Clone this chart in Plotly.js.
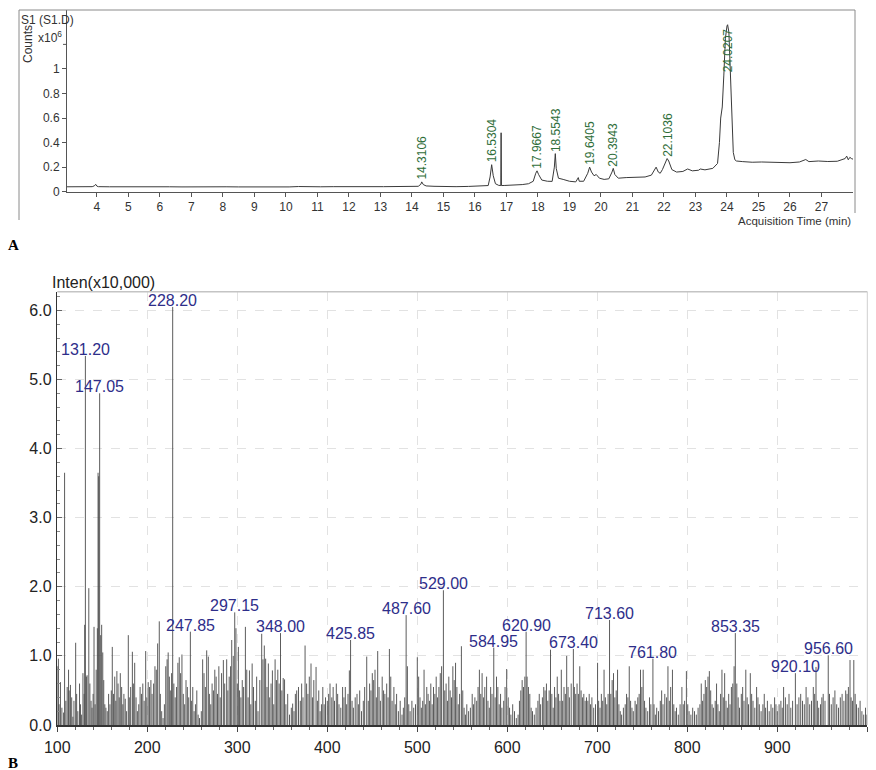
<!DOCTYPE html>
<html><head><meta charset="utf-8">
<script src="https://cdn.plot.ly/plotly-3.0.1.min.js"></script>
<style>html,body{margin:0;padding:0;background:#fff}#chart{width:876px;height:770px}</style>
</head><body><div id="chart"></div>
<script>
// ---------- Panel A: chromatogram ----------
const rtMin = [3.05,3.3,3.6,3.85,3.92,3.96,4.0,4.05,4.4,4.8,5.2,5.6,5.9,6.3,6.7,7.1,7.45,7.7,8.1,8.5,8.9,9.3,9.7,10.1,10.4,10.7,11.1,11.5,11.9,12.3,12.7,13.1,13.5,13.9,14.2,14.28,14.31,14.36,14.45,14.7,15.0,15.4,15.8,16.2,16.42,16.48,16.53,16.58,16.65,16.75,16.82,16.83,16.84,16.95,17.2,17.5,17.7,17.85,17.93,17.97,18.02,18.12,18.3,18.45,18.52,18.55,18.58,18.65,18.8,19.0,19.2,19.26,19.28,19.31,19.45,19.58,19.64,19.7,19.78,19.85,19.95,20.1,20.25,20.35,20.39,20.44,20.55,20.8,21.1,21.4,21.6,21.72,21.75,21.82,21.88,21.95,22.05,22.1,22.15,22.25,22.4,22.6,22.75,22.9,23.1,23.15,23.3,23.55,23.7,23.76,23.8,23.85,23.9,23.95,24.0,24.02,24.06,24.1,24.15,24.2,24.25,24.3,24.5,24.8,25.1,25.4,25.7,26.0,26.3,26.5,26.6,26.9,27.2,27.5,27.75,27.8,27.85,27.9,27.95,28.0];
const countsE6 = [0.040,0.041,0.040,0.041,0.048,0.060,0.045,0.041,0.040,0.041,0.040,0.039,0.041,0.040,0.039,0.040,0.043,0.042,0.040,0.039,0.038,0.038,0.039,0.039,0.042,0.040,0.040,0.041,0.039,0.040,0.041,0.041,0.042,0.042,0.044,0.060,0.080,0.058,0.047,0.044,0.042,0.041,0.043,0.045,0.050,0.120,0.220,0.130,0.065,0.052,0.050,0.480,0.050,0.051,0.053,0.058,0.065,0.085,0.150,0.170,0.140,0.095,0.085,0.084,0.200,0.310,0.190,0.110,0.100,0.085,0.080,0.110,0.115,0.085,0.085,0.150,0.200,0.160,0.130,0.140,0.110,0.100,0.105,0.160,0.190,0.140,0.110,0.115,0.118,0.120,0.135,0.190,0.200,0.160,0.150,0.180,0.240,0.270,0.250,0.180,0.160,0.165,0.185,0.170,0.175,0.185,0.178,0.190,0.230,0.400,0.600,0.690,0.950,1.250,1.350,1.360,1.300,1.050,0.600,0.320,0.260,0.250,0.245,0.240,0.242,0.238,0.240,0.236,0.242,0.262,0.245,0.250,0.246,0.248,0.270,0.290,0.260,0.280,0.270,0.265];
const peakRT = [14.3106,16.5304,17.9667,18.5543,19.6405,20.3943,22.1036,24.0207];
const rtTicks = [4,5,6,7,8,9,10,11,12,13,14,15,16,17,18,19,20,21,22,23,24,25,26,27];
const countTicks = [0,0.2,0.4,0.6,0.8,1];
const countTickText = ['0','0.2','0.4','0.6','0.8','1'];
const countExtraTick = 1.2;

// ---------- Panel B: mass spectrum ----------
const mz = [
 // 100-150
 100.5,101.2,102.0,103.5,105.1,107.0,108.1,109.5,111.0,112.5,113.2,114.6,116.0,117.3,118.5,120.4,121.5,122.8,124.7,125.8,127.0,128.5,129.8,130.4,131.2,132.3,133.1,135.0,136.2,137.5,138.6,139.8,140.8,142.0,143.2,144.5,145.3,146.0,147.05,148.2,149.3,
 // 150-200
 150.5,151.6,152.8,154.0,155.5,157.0,158.5,160.0,161.1,162.5,163.8,165.0,166.2,167.5,168.8,170.0,171.5,172.8,174.0,175.5,177.0,178.9,180.0,181.5,183.4,184.5,186.0,187.5,189.0,190.5,192.0,193.5,195.0,196.5,198.2,199.5,
 // 200-250
 201.0,202.5,204.0,205.3,207.0,208.5,210.0,211.5,213.3,214.5,216.0,217.5,219.0,220.5,222.0,223.2,224.5,226.0,227.0,228.2,229.5,231.0,232.5,234.0,235.5,237.0,238.5,240.0,241.5,243.0,244.5,246.0,247.85,249.0,
 // 250-300
 250.5,252.0,253.5,255.0,256.5,258.0,260.0,261.5,263.0,264.5,266.0,267.8,269.0,270.5,272.0,273.5,275.0,276.5,278.0,279.5,281.0,282.5,284.5,286.0,288.2,289.5,291.0,292.5,293.8,295.5,297.15,298.5,
 // 300-350
 300.0,301.2,302.5,304.0,305.5,307.0,309.0,310.5,312.0,313.5,315.0,316.5,318.0,320.0,321.5,323.0,325.0,327.1,328.5,330.0,331.5,333.0,334.5,336.0,337.5,339.0,340.5,342.0,343.5,345.0,346.5,348.0,349.5,
 // 350-400
 351.0,352.5,354.0,356.0,358.0,360.0,361.5,363.0,364.5,366.0,368.0,370.0,371.5,373.0,375.3,377.0,378.5,380.0,381.9,383.5,385.0,387.5,389.0,390.5,392.0,393.5,395.0,396.5,398.0,
 // 400-450
 400.0,401.5,403.0,405.0,406.5,408.0,410.0,411.5,413.0,415.0,417.0,418.5,420.0,421.5,423.0,424.5,425.85,427.5,429.0,431.0,433.0,434.5,436.0,438.0,440.0,441.5,443.8,445.5,447.0,448.5,
 // 450-500
 450.0,451.5,453.0,454.5,456.0,457.5,459.0,461.0,462.5,464.0,466.0,467.5,469.0,470.5,472.0,474.0,475.5,477.0,479.0,481.0,483.0,484.5,486.0,487.6,489.0,490.5,492.0,494.0,496.0,498.0,
 // 500-550
 500.0,501.5,503.0,504.5,506.0,507.5,509.0,510.5,512.0,513.5,515.0,516.5,518.0,519.5,521.0,522.5,524.0,525.5,527.0,529.0,530.5,532.0,533.5,535.0,536.5,538.0,539.5,541.0,542.5,544.0,545.5,547.0,549.0,
 // 550-600
 550.5,552.0,553.5,555.0,557.0,559.0,561.0,562.5,564.0,566.0,567.5,569.0,570.5,572.0,573.5,575.0,577.0,578.5,580.0,581.5,583.0,584.95,586.5,588.0,589.5,591.0,592.5,594.0,596.0,597.5,599.3,
 // 600-650
 601.0,602.5,604.0,606.0,608.0,610.0,612.0,613.5,615.0,616.5,618.0,619.5,620.9,622.0,623.5,625.0,626.5,628.0,630.0,632.0,634.0,635.5,637.0,639.0,640.5,642.0,643.5,645.0,646.5,648.0,649.5,
 // 650-700
 651.0,652.5,654.0,655.5,657.0,658.5,660.0,661.5,663.0,664.5,666.0,667.5,669.0,671.0,673.4,674.5,676.0,677.5,679.0,680.5,682.0,683.5,685.0,686.5,688.0,689.5,691.0,692.5,694.0,696.0,698.0,
 // 700-750
 700.3,701.5,703.0,704.5,706.0,707.5,709.0,710.5,712.0,713.6,715.0,716.5,718.0,719.5,721.0,722.5,724.0,725.5,727.0,729.0,731.0,732.5,734.0,735.5,737.0,738.5,740.0,742.0,743.5,745.0,746.5,748.0,749.5,
 // 750-800
 751.0,752.5,754.0,756.0,758.0,759.5,761.8,763.0,764.5,766.0,768.0,770.0,771.5,773.0,775.0,777.0,778.5,780.0,781.5,783.5,785.0,786.5,788.0,790.0,792.0,794.0,795.5,797.0,799.0,
 // 800-850
 800.5,802.0,804.0,806.0,808.0,810.0,812.0,814.0,815.5,817.0,818.5,820.0,821.5,823.0,824.5,826.0,827.5,829.0,831.0,832.5,834.0,835.5,837.0,838.5,840.0,841.5,843.0,844.5,846.0,847.5,849.0,
 // 850-900
 850.5,852.0,853.35,855.0,856.5,858.0,860.0,861.5,863.0,865.0,866.5,868.0,870.0,871.5,873.0,875.0,877.0,878.5,880.0,882.0,884.0,885.5,887.0,889.0,891.0,893.0,895.0,897.0,898.5,
 // 900-1000
 900.0,902.0,904.0,905.5,907.0,909.0,911.0,913.0,915.0,917.0,920.1,922.0,924.0,926.0,928.0,930.0,932.0,934.0,936.0,938.0,940.0,941.5,943.0,944.5,946.0,948.0,949.5,951.0,953.0,956.6,958.0,960.0,962.0,964.0,966.0,968.0,970.0,972.0,974.0,976.0,977.5,979.0,980.8,982.0,983.5,985.0,986.5,988.0,990.0,992.0,994.0,996.0,998.0,999.5
];
const intensity = [
 // 100-150
 0.85,0.96,0.30,0.62,0.25,0.18,3.65,0.35,0.55,0.80,0.50,0.58,0.40,0.12,0.35,1.19,0.45,0.20,0.60,0.30,0.15,0.75,0.45,1.45,5.34,0.70,0.72,1.98,0.60,0.35,0.25,0.45,1.42,0.30,0.80,1.40,3.65,3.60,4.80,1.30,1.45,
 // 150-200
 1.05,0.65,0.30,0.25,0.20,0.45,0.30,0.50,1.13,0.45,0.70,0.35,0.78,0.60,0.40,0.75,0.55,0.30,0.45,0.38,0.20,1.30,0.40,0.55,1.06,0.60,0.90,0.40,0.20,0.30,0.55,0.45,0.60,0.35,1.07,0.40,
 // 200-250
 0.62,0.55,0.65,0.45,0.60,0.85,0.80,1.18,1.50,0.45,0.20,0.10,0.30,0.85,0.95,1.05,0.70,0.50,0.75,6.05,0.60,0.40,0.55,0.90,0.98,0.75,1.02,0.45,0.30,0.65,0.55,0.40,1.35,0.35,
 // 250-300
 0.55,0.20,0.30,0.50,0.15,0.10,0.20,0.95,0.75,0.55,1.08,0.99,0.45,0.30,0.60,0.50,0.80,0.70,0.45,0.85,0.40,0.75,0.94,0.60,0.95,0.50,0.70,0.85,1.23,1.00,1.63,1.40,
 // 300-350
 0.60,1.13,0.50,0.40,0.65,0.55,1.42,0.80,0.40,0.79,0.30,0.89,0.55,0.35,0.70,0.20,0.65,1.32,0.95,1.15,0.96,0.55,0.89,0.40,0.60,0.79,0.30,0.95,0.65,0.80,0.60,1.33,0.50,
 // 350-400
 0.68,0.66,0.30,0.45,0.15,0.25,0.31,0.20,0.45,0.50,0.55,0.35,0.60,0.40,1.15,0.60,0.45,0.70,0.89,0.40,0.65,0.84,0.35,0.50,0.20,0.30,0.55,0.30,0.40,
 // 400-450
 0.35,0.45,0.60,0.40,0.55,0.35,0.60,0.45,0.30,0.25,0.55,0.40,0.55,0.30,0.45,0.79,1.23,0.35,0.25,0.40,0.45,0.30,0.50,0.20,0.35,0.55,0.99,0.35,0.60,0.50,
 // 450-500
 0.75,0.65,0.80,0.40,1.07,0.55,0.35,0.70,0.50,0.45,0.60,0.40,1.10,0.70,0.35,0.55,0.30,0.45,0.20,0.35,0.15,0.25,0.40,1.59,0.85,0.30,0.20,0.35,0.25,0.30,
 // 500-550
 0.98,0.70,0.40,0.25,0.35,0.80,0.30,0.55,0.45,0.35,0.60,0.30,0.55,0.45,0.70,0.40,0.55,0.75,0.85,1.95,0.50,0.60,0.35,0.70,0.50,0.40,0.85,0.65,0.90,0.55,0.30,0.45,1.14,
 // 550-600
 0.50,0.25,0.15,0.30,0.20,0.25,0.45,0.30,0.40,0.35,0.55,0.80,0.45,0.75,0.40,0.55,0.70,0.35,0.25,0.55,0.45,1.12,0.40,0.70,0.55,0.30,0.45,0.25,0.35,0.55,0.81,
 // 600-650
 0.40,0.25,0.15,0.30,0.20,0.10,0.15,0.35,0.50,0.65,0.55,0.70,1.35,0.70,0.55,0.45,0.25,0.20,0.15,0.25,0.35,0.45,0.30,0.40,0.55,0.50,0.60,0.35,0.50,1.09,0.45,
 // 650-700
 0.25,0.55,0.40,0.70,0.45,0.35,0.80,0.35,0.55,0.45,1.00,0.55,0.40,0.60,1.10,0.55,0.45,0.60,0.45,0.85,0.50,0.40,0.45,0.35,0.40,0.35,0.45,0.30,0.40,0.25,0.30,
 // 700-750
 0.90,0.35,0.25,0.45,0.35,0.80,0.40,0.30,0.45,1.52,0.45,0.65,0.75,0.40,0.50,0.80,0.30,0.20,0.15,0.25,0.30,0.45,0.40,0.85,0.35,0.25,0.20,0.35,0.30,0.40,0.45,0.80,0.55,
 // 750-800
 0.80,0.35,0.25,0.20,0.40,0.30,0.96,0.30,0.15,0.25,0.20,0.35,0.50,0.30,0.45,0.40,0.85,0.35,0.55,0.80,0.30,0.20,0.25,0.15,0.30,0.55,0.30,0.35,0.78,
 // 800-850
 0.30,0.20,0.15,0.25,0.20,0.15,0.25,0.30,0.60,0.35,0.45,0.65,0.55,0.70,0.78,0.50,0.30,0.25,0.35,0.60,0.30,0.20,0.45,0.80,0.40,0.75,0.35,0.25,0.45,0.30,0.55,
 // 850-900
 0.60,0.85,1.33,0.60,0.40,0.25,0.45,0.55,0.35,0.80,0.40,0.30,0.75,0.45,0.35,0.25,0.55,0.40,0.30,0.20,0.30,0.45,0.25,0.35,0.20,0.30,0.25,0.40,0.30,
 // 900-1000
 0.20,0.30,0.35,0.25,0.55,0.40,0.30,0.45,0.25,0.35,0.75,0.30,0.40,0.45,0.35,0.30,0.55,0.40,0.30,0.35,0.55,0.45,0.84,0.35,0.25,0.30,0.40,0.45,0.35,1.01,0.45,0.30,0.40,0.50,0.30,0.25,0.40,0.45,0.35,0.50,0.45,0.55,0.94,0.40,0.35,0.94,0.45,0.30,0.25,0.35,0.20,0.15,0.25,0.15
];
const specLabelMz = [131.20,147.05,228.20,247.85,297.15,348.00,425.85,487.60,529.00,584.95,620.90,673.40,713.60,761.80,853.35,920.10,956.60];
const mzTicks = [100,200,300,400,500,600,700,800,900,1000];
const mzTickText = ['100','200','300','400','500','600','700','800','900','m/z'];

// ---------- build ----------
const W = 876, H = 770;
const px = v => v / W, py = v => 1 - v / H;

const n = Math.min(mz.length, intensity.length);
const stickX = [], stickY = [];
for (let i = 0; i < n; i++) { stickX.push(mz[i], mz[i], null); stickY.push(0, intensity[i], null); }

function nearestVal(xs, ys, x0) {
  let best = 0, bd = Infinity;
  for (let i = 0; i < Math.min(xs.length, ys.length); i++) { const d = Math.abs(xs[i] - x0); if (d < bd) { bd = d; best = i; } }
  return ys[best];
}
function maxNear(xs, ys, x0, tol) {
  let m = 0;
  for (let i = 0; i < xs.length; i++) if (Math.abs(xs[i] - x0) <= tol && ys[i] > m) m = ys[i];
  return m;
}

const traces = [
  {x: rtMin, y: countsE6, type: 'scatter', mode: 'lines', xaxis: 'x', yaxis: 'y',
   line: {color: '#3a3a3a', width: 1}, hoverinfo: 'skip'},
  {x: stickX, y: stickY, type: 'scatter', mode: 'lines', xaxis: 'x2', yaxis: 'y2',
   connectgaps: false, line: {color: '#4a4a4a', width: 0.9}, hoverinfo: 'skip'}
];

const annotations = [];
peakRT.forEach(t => {
  const h = maxNear(rtMin, countsE6, t, 0.06);
  const big = h > 1.2;
  annotations.push({xref: 'x', yref: 'y', x: t, y: h, text: t.toFixed(4), showarrow: false,
    textangle: -90, xanchor: 'center', yanchor: big ? 'top' : 'bottom', yshift: big ? -2 : 0,
    font: {family: 'Liberation Sans, Arial, sans-serif', size: 12, color: '#2f6e3a'}});
});
specLabelMz.forEach(m => {
  const h = nearestVal(mz, intensity, m);
  annotations.push({xref: 'x2', yref: 'y2', x: m, y: h, text: m.toFixed(2), showarrow: false,
    xanchor: 'center', yanchor: 'bottom', yshift: -4,
    font: {family: 'Liberation Sans, Arial, sans-serif', size: 16, color: '#2e2e8a'}});
});
const fA = {family: 'Liberation Sans, Arial, sans-serif', size: 12, color: '#333'};
annotations.push(
  {xref: 'paper', yref: 'paper', x: px(19), y: py(20), text: 'S1 (S1.D)', showarrow: false, xanchor: 'left', yanchor: 'middle', font: fA},
  {xref: 'paper', yref: 'paper', x: px(28), y: py(44), text: 'Counts', showarrow: false, textangle: -90, xanchor: 'center', yanchor: 'middle', font: fA},
  {xref: 'paper', yref: 'paper', x: px(36), y: py(37), text: 'x10<sup>6</sup>', showarrow: false, xanchor: 'left', yanchor: 'middle', font: fA},
  {xref: 'paper', yref: 'paper', x: px(853), y: py(221), text: 'Acquisition Time (min)', showarrow: false, xanchor: 'right', yanchor: 'middle',
   font: {family: 'Liberation Sans, Arial, sans-serif', size: 11.5, color: '#333'}},
  {xref: 'paper', yref: 'paper', x: px(6), y: py(245), text: '<b>A</b>', showarrow: false, xanchor: 'left', yanchor: 'middle',
   font: {family: 'Liberation Serif, Times New Roman, serif', size: 15, color: '#000'}},
  {xref: 'paper', yref: 'paper', x: px(6), y: py(763), text: '<b>B</b>', showarrow: false, xanchor: 'left', yanchor: 'middle',
   font: {family: 'Liberation Serif, Times New Roman, serif', size: 15, color: '#000'}},
  {xref: 'paper', yref: 'paper', x: px(50), y: py(282), text: 'Inten(x10,000)', showarrow: false, xanchor: 'left', yanchor: 'middle',
   font: {family: 'Liberation Sans, Arial, sans-serif', size: 16, color: '#222'}}
);

const shapes = [
  {type: 'line', xref: 'paper', yref: 'paper', x0: px(19), x1: px(19), y0: py(10), y1: py(220), line: {color: '#8a8a8a', width: 1}},
  {type: 'line', xref: 'paper', yref: 'paper', x0: px(19), x1: px(855), y0: py(10), y1: py(10), line: {color: '#8a8a8a', width: 1}},
  {type: 'line', xref: 'paper', yref: 'paper', x0: px(855), x1: px(855), y0: py(10), y1: py(213), line: {color: '#8a8a8a', width: 1}},
  {type: 'line', xref: 'paper', yref: 'y', x0: px(63), x1: px(67), y0: countExtraTick, y1: countExtraTick, line: {color: '#555', width: 1}},
  {type: 'line', xref: 'paper', yref: 'paper', x0: px(57.3), x1: px(867.3), y0: py(291.7), y1: py(291.7), line: {color: '#c4c4c4', width: 1.5}},
  {type: 'line', xref: 'paper', yref: 'paper', x0: px(867.3), x1: px(867.3), y0: py(291.7), y1: py(725), line: {color: '#cfcfcf', width: 1}}
];

const fB = {family: 'Liberation Sans, Arial, sans-serif', size: 16, color: '#222'};
const layout = {
  width: W, height: H, margin: {l: 0, r: 0, t: 0, b: 0},
  paper_bgcolor: '#fff', plot_bgcolor: '#fff', showlegend: false,
  xaxis: {domain: [px(67), px(853)], range: [3.05, 28], anchor: 'y', tickmode: 'array', tickvals: rtTicks,
    ticks: 'outside', ticklen: 4, tickcolor: '#555', showline: true, linecolor: '#555', linewidth: 1,
    showgrid: false, zeroline: false, tickfont: fA, ticklabelstandoff: 0},
  yaxis: {domain: [py(191.7), py(10)], range: [0, 1.48], anchor: 'x', tickmode: 'array', tickvals: countTicks, ticktext: countTickText,
    ticks: 'outside', ticklen: 4, tickcolor: '#555', showline: true, linecolor: '#555', linewidth: 1,
    showgrid: false, zeroline: false, tickfont: fA},
  xaxis2: {domain: [px(57.3), px(867.3)], range: [100, 1000], anchor: 'y2', tickmode: 'array', tickvals: mzTicks, ticktext: mzTickText,
    ticks: 'outside', ticklen: 5, tickcolor: '#444', showline: true, linecolor: '#333', linewidth: 1.5,
    showgrid: true, gridcolor: '#e2e2e2', griddash: 'dash', gridwidth: 1, zeroline: false, tickfont: fB, ticklabelstandoff: 2,
    minor: {tick0: 100, dtick: 20, ticks: 'outside', ticklen: 3, tickcolor: '#666', showgrid: false}},
  yaxis2: {domain: [py(725), py(291.7)], range: [0, 6.27], anchor: 'x2', dtick: 1, tick0: 0, tickformat: '.1f',
    ticks: 'inside', ticklen: 5, tickcolor: '#666', showline: true, linecolor: '#333', linewidth: 1.5,
    showgrid: true, gridcolor: '#e2e2e2', griddash: 'dash', gridwidth: 1, zeroline: false, tickfont: fB, ticklabelstandoff: 1,
    minor: {tick0: 0, dtick: 0.2, ticks: 'inside', ticklen: 3, tickcolor: '#888', showgrid: false}},
  annotations: annotations, shapes: shapes
};

Plotly.newPlot('chart', traces, layout, {staticPlot: true, displayModeBar: false});
</script>
</body></html>
